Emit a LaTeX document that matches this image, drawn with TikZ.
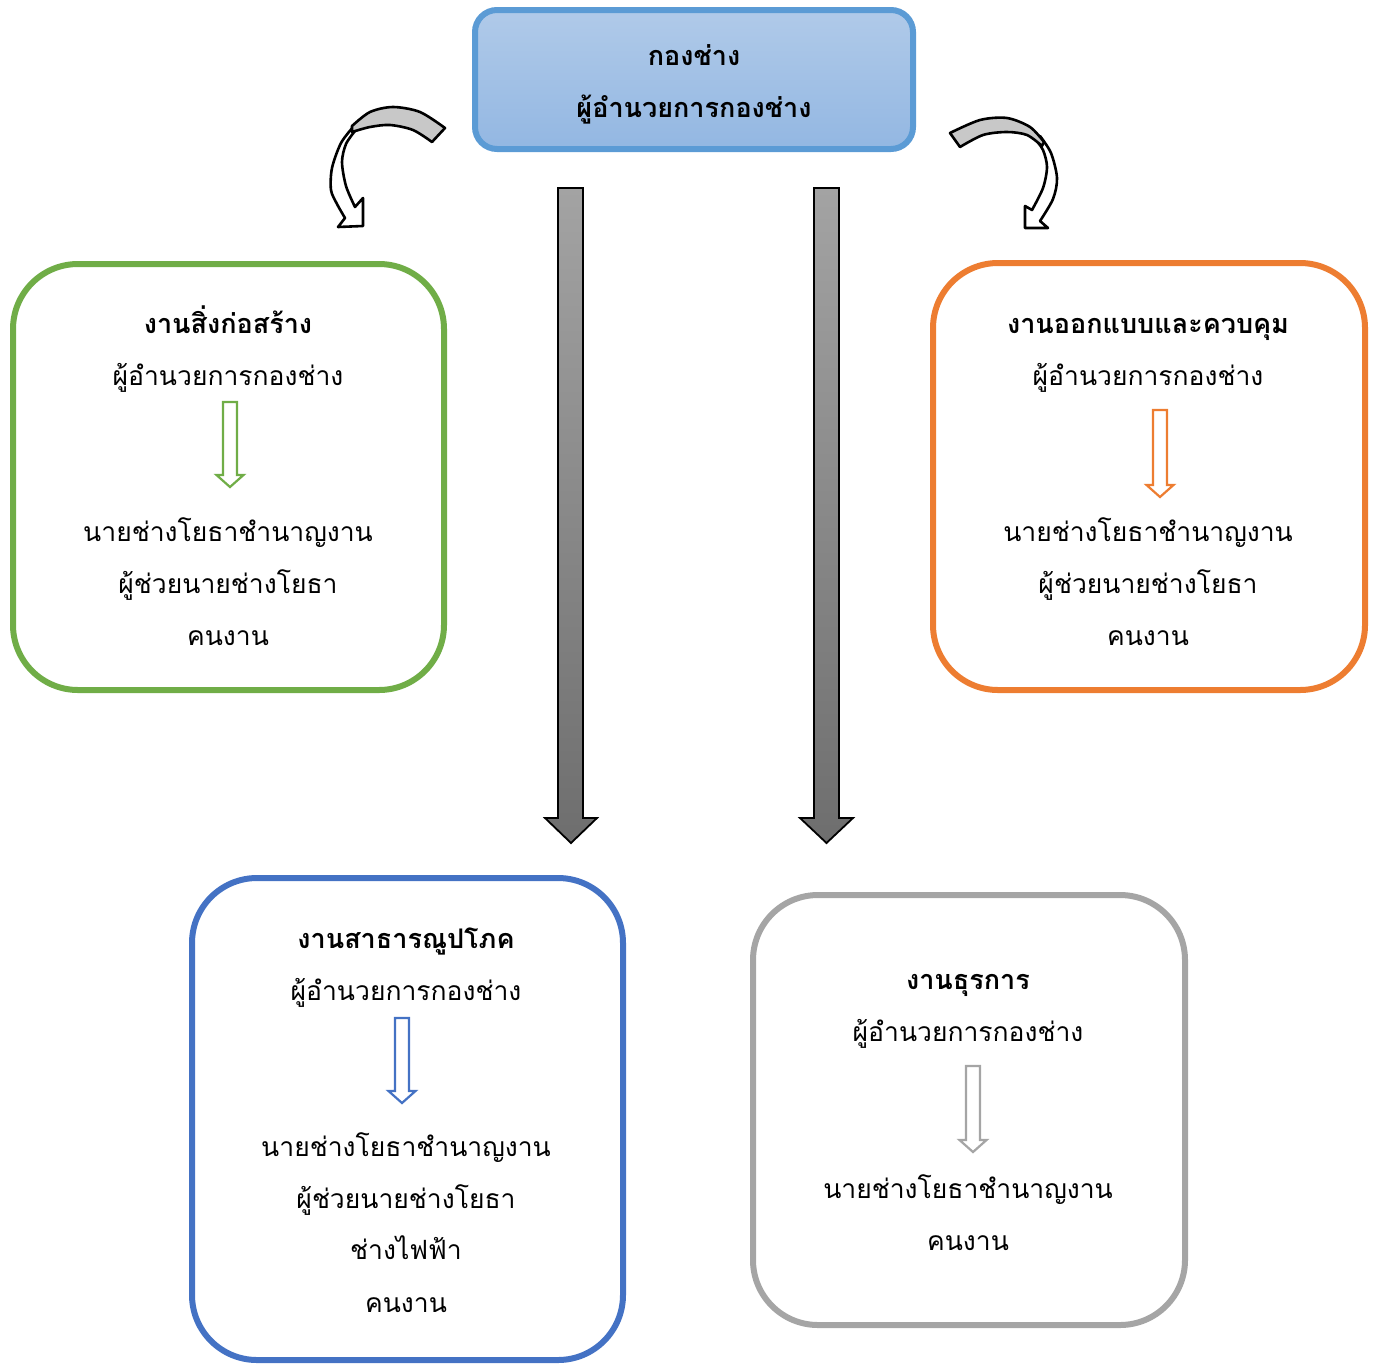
\documentclass[tikz,border=0pt]{standalone}
\usepackage{fontspec}
\newfontfamily\thaifont[Script=Thai]{Loma}
\definecolor{cgreen}{HTML}{70AD47}
\definecolor{corange}{HTML}{ED7D31}
\definecolor{cblue}{HTML}{4472C4}
\definecolor{cgray}{HTML}{A5A5A5}
\definecolor{ctopb}{HTML}{5B9BD5}
\definecolor{ctop1}{HTML}{B0CAE9}
\definecolor{ctop2}{HTML}{93B7E2}
\definecolor{arr1}{HTML}{A3A3A3}
\definecolor{arr2}{HTML}{6E6E6E}
\definecolor{bandgray}{HTML}{C8C8C8}
\tikzset{
  box/.style={line width=6pt, rounded corners=65pt, inner sep=0pt},
  txt/.style={font=\thaifont\fontsize{26.5}{30}\selectfont, anchor=base, inner sep=0pt},
  ttl/.style={font=\thaifont\bfseries\fontsize{27}{30}\selectfont, anchor=base, inner sep=0pt},
  bigarrow/.style={top color=arr1, bottom color=arr2, draw=black, line width=1.8pt},
  curvearrow/.style={draw=black, line width=2.6pt, line join=round},
}
\newcommand\hollowarrow[4]{% color, x, ytop, ytip
  \draw[#1, line width=2.2pt, fill=white, line join=miter]
    (#2-7,#3) -- (#2+7,#3) -- (#2+7,#4-12) -- (#2+13.5,#4-12) -- (#2,#4)
    -- (#2-13.5,#4-12) -- (#2-7,#4-12) -- cycle;}
\begin{document}
\begin{tikzpicture}[x=1pt,y=-1pt]
\useasboundingbox (0,0) rectangle (1375,1363);

% top box
\node[box, rounded corners=22pt, draw=ctopb, top color=ctop1, bottom color=ctop2,
      minimum width=438pt, minimum height=139pt] (top) at (694,79.5) {};
\node[ttl] (t1) at (694,65) {กองช่าง};
\node[ttl] (t2) at (694,117) {ผู้อำนวยการกองช่าง};

% green box
\node[box, draw=cgreen, minimum width=431pt, minimum height=426pt] (g) at (228.5,477) {};
\node[ttl] (g1) at (228,333) {งานสิ่งก่อสร้าง};
\node[txt] (g2) at (228,385) {ผู้อำนวยการกองช่าง};
\hollowarrow{cgreen}{230}{402}{487}
\node[txt] (g3) at (228,541) {นายช่างโยธาชำนาญงาน};
\node[txt] (g4) at (228,593) {ผู้ช่วยนายช่างโยธา};
\node[txt] (g5) at (228,645) {คนงาน};

% orange box
\node[box, draw=corange, minimum width=432pt, minimum height=427pt] (o) at (1149,476.5) {};
\node[ttl] (o1) at (1148,333) {งานออกแบบและควบคุม};
\node[txt] (o2) at (1148,385) {ผู้อำนวยการกองช่าง};
\hollowarrow{corange}{1160}{410}{497}
\node[txt] (o3) at (1148,541) {นายช่างโยธาชำนาญงาน};
\node[txt] (o4) at (1148,593) {ผู้ช่วยนายช่างโยธา};
\node[txt] (o5) at (1148,645) {คนงาน};

% blue box
\node[box, draw=cblue, minimum width=431pt, minimum height=482pt] (b) at (407.5,1119) {};
\node[ttl] (b1) at (406,948) {งานสาธารณูปโภค};
\node[txt] (b2) at (406,1000) {ผู้อำนวยการกองช่าง};
\hollowarrow{cblue}{402}{1018}{1103}
\node[txt] (b3) at (406,1156) {นายช่างโยธาชำนาญงาน};
\node[txt] (b4) at (406,1208) {ผู้ช่วยนายช่างโยธา};
\node[txt] (b5) at (406,1259) {ช่างไฟฟ้า};
\node[txt] (b6) at (406,1312) {คนงาน};

% gray box
\node[box, draw=cgray, minimum width=432pt, minimum height=430pt] (r) at (969,1110) {};
\node[ttl] (r1) at (968,989) {งานธุรการ};
\node[txt] (r2) at (968,1041) {ผู้อำนวยการกองช่าง};
\hollowarrow{cgray}{973}{1066}{1152}
\node[txt] (r3) at (968,1198) {นายช่างโยธาชำนาญงาน};
\node[txt] (r4) at (968,1250) {คนงาน};

% big gray arrows
\shade[bigarrow] (558,188) -- (583,188) -- (583,818) -- (597,818) -- (571,843)
  -- (545,818) -- (558,818) -- cycle;
\shade[bigarrow] (814,188) -- (839,188) -- (839,818) -- (853,818) -- (826.5,843)
  -- (800,818) -- (814,818) -- cycle;

% left curved arrow
\filldraw[curvearrow, fill=white]
  plot[smooth] coordinates {(354,126) (341,143) (332,168) (331,190) (337,204) (345,218)}
  -- (338,227) -- (363,226) -- (363,198) -- (355,207)
  -- plot[smooth] coordinates {(355,207) (346,186) (342,162) (346,144) (355,131)} -- cycle;
\filldraw[curvearrow, fill=bandgray]
  plot[smooth] coordinates {(445,128) (420,112) (393,107) (370,112) (352,126)}
  -- plot[smooth] coordinates {(352,132) (370,127) (390,125) (413,130) (432,142)} -- cycle;

% right curved arrow
\filldraw[curvearrow, fill=white]
  plot[smooth] coordinates {(1040,136) (1051,153) (1057,178) (1053,199) (1040,221)}
  -- (1048,228) -- (1025,228) -- (1025,206) -- (1032,210)
  -- plot[smooth] coordinates {(1032,210) (1043,188) (1047,167) (1043,150) (1035,139)} -- cycle;
\filldraw[curvearrow, fill=bandgray]
  plot[smooth] coordinates {(950,133) (980,120) (1007,118) (1030,127) (1044,142)}
  -- plot[smooth] coordinates {(1042,146) (1027,135) (1007,132) (983,135) (960,147)} -- cycle;
\end{tikzpicture}
\end{document}
